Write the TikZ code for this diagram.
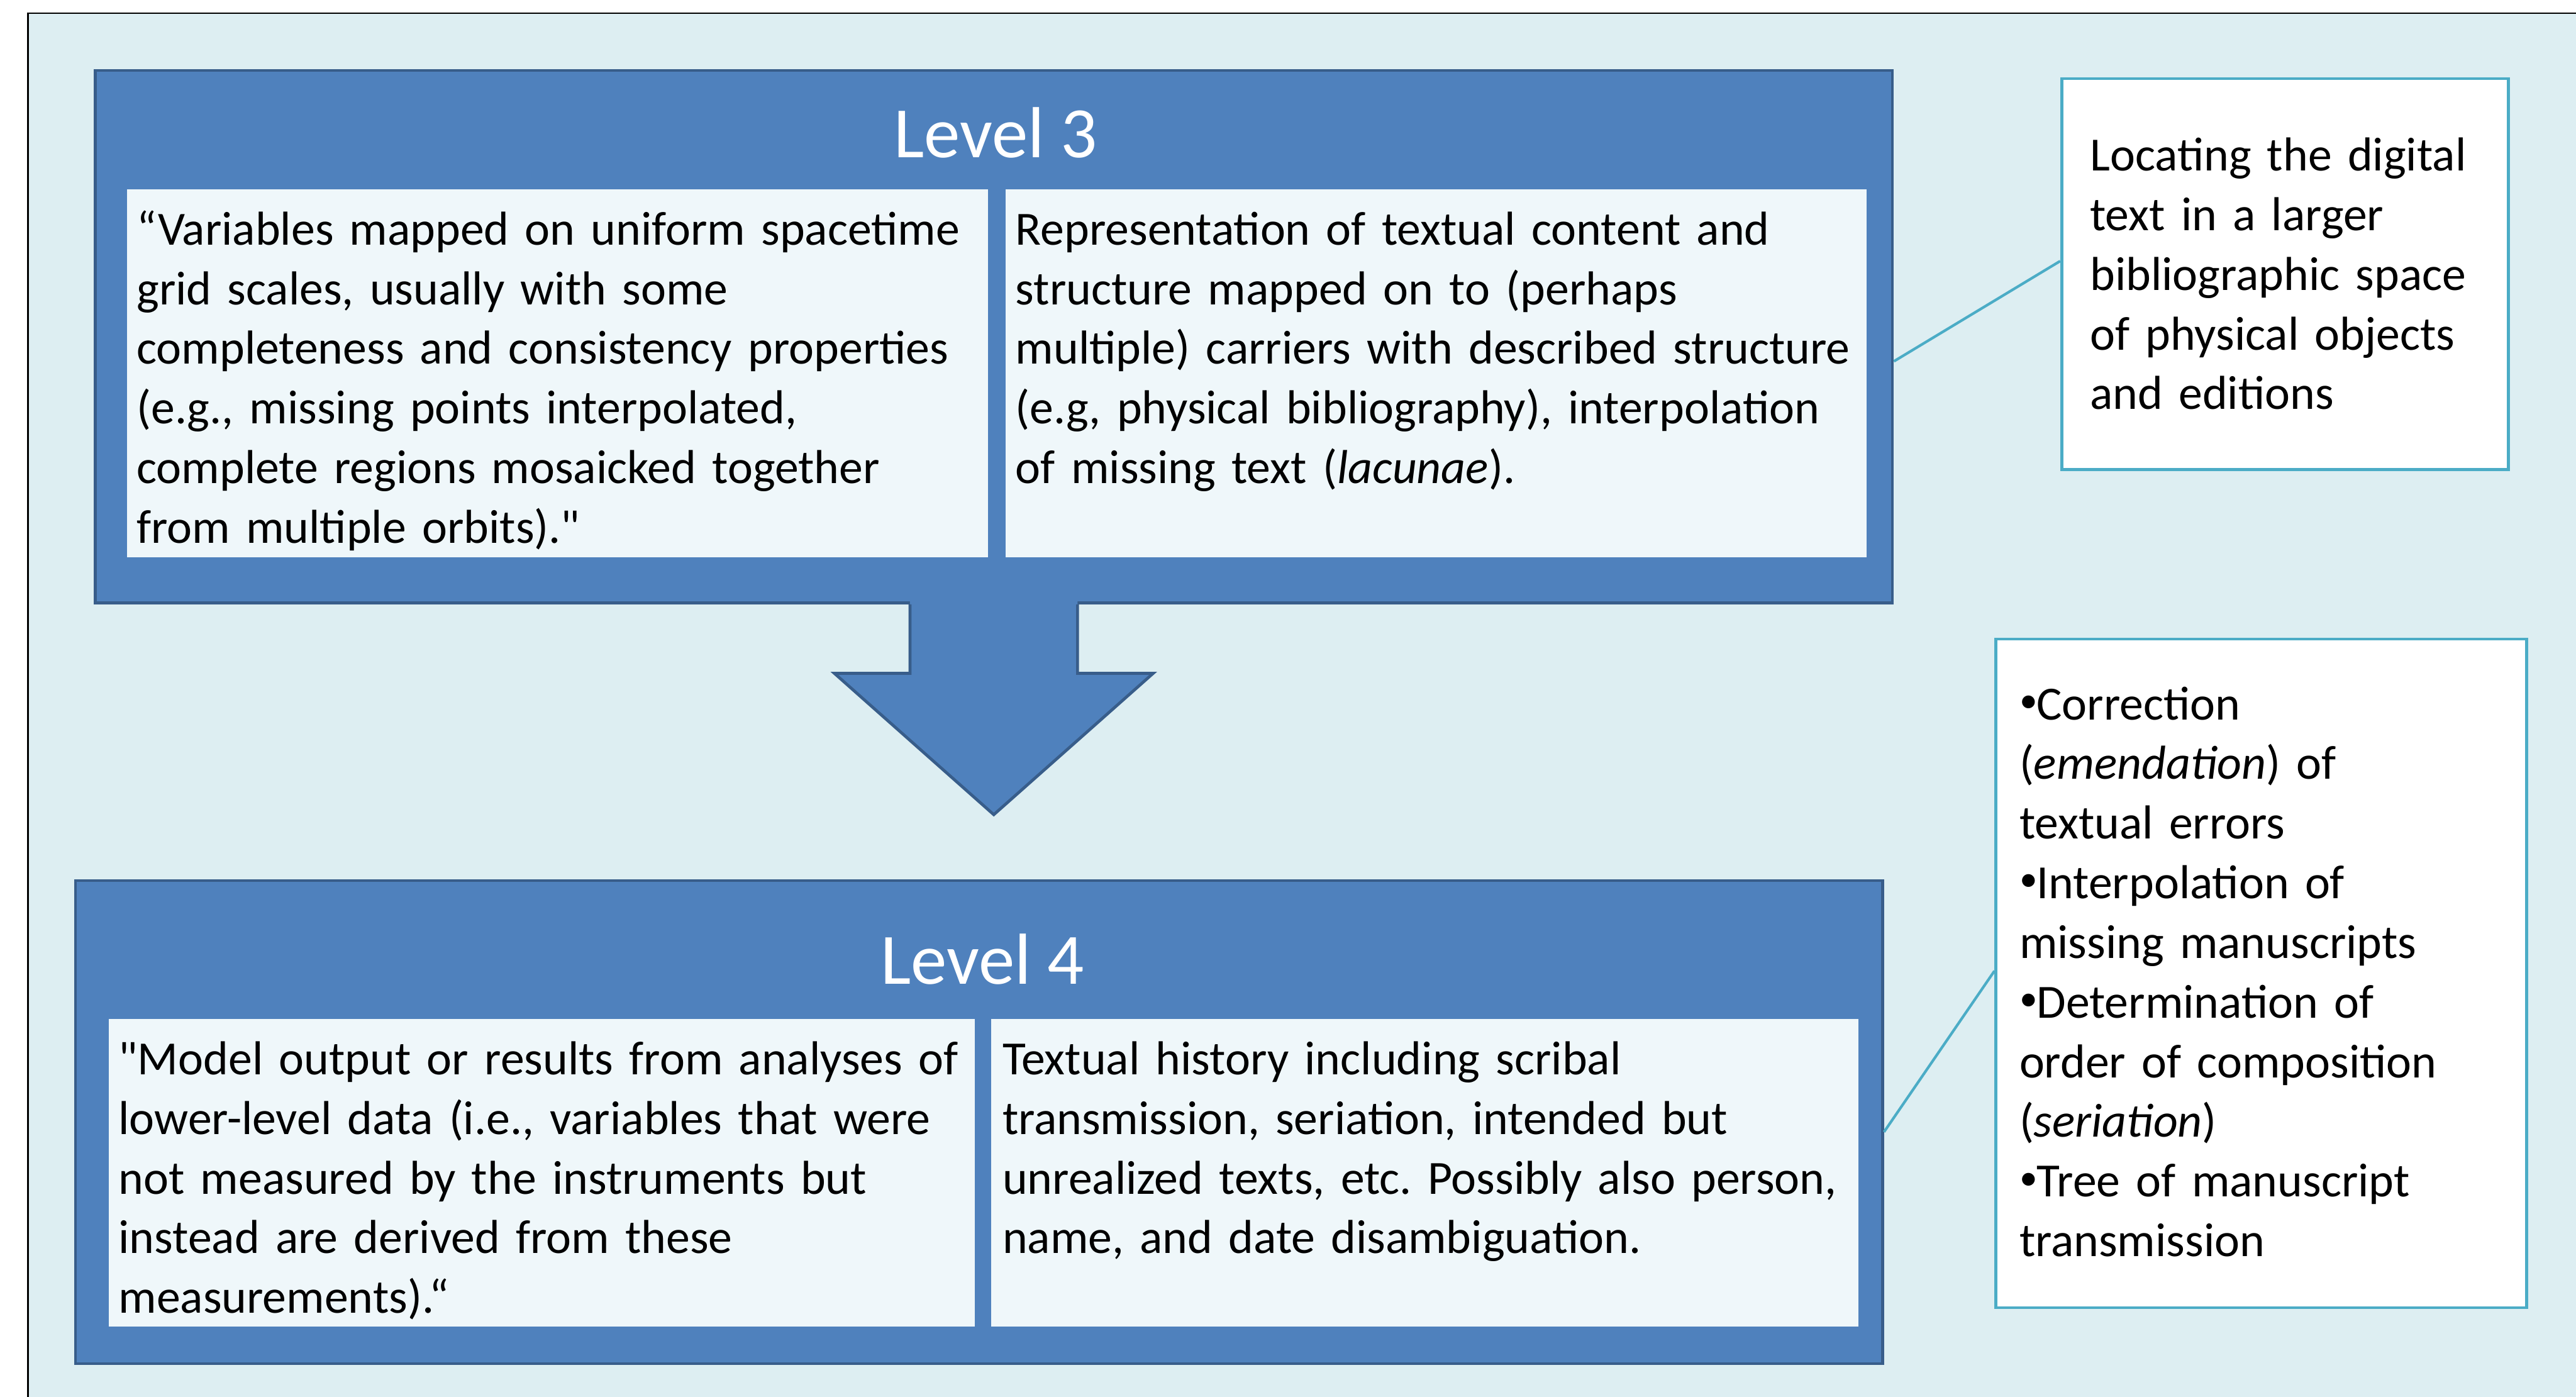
\documentclass[tikz,border=0pt]{standalone}
\usepackage{fontspec}
\setmainfont{Carlito}
\usetikzlibrary{calc}

\definecolor{bgpanel}{HTML}{DDEEF2}
\definecolor{levelfill}{HTML}{4F81BD}
\definecolor{levelline}{HTML}{385D8A}
\definecolor{innerfill}{HTML}{EFF7FA}
\definecolor{accent}{HTML}{4BACC6}

% small raised list bullet
\newcommand{\itembullet}{\makebox[10.5pt][l]{\hspace{0.3pt}\raisebox{4.5pt}{\fontsize{22pt}{0pt}\selectfont •}}}

\begin{document}
\frenchspacing
\begin{tikzpicture}[x=1pt,y=-1pt,
  levelbox/.style={draw=levelline, line width=1.8pt, fill=levelfill,
    anchor=north west, inner sep=0pt},
  innerbox/.style={fill=innerfill, anchor=north west, inner sep=0pt},
  notebox/.style={draw=accent, line width=1.8pt, fill=white,
    anchor=north west, inner sep=0pt},
  leveltitle/.style={anchor=base, text=white, inner sep=0pt,
    font=\fontsize{44pt}{53pt}\selectfont},
  bodytext/.style={anchor=base west, inner sep=0pt, align=left,
    text width=800pt, font=\fontsize{29pt}{36.3pt}\selectfont\frenchspacing},
  link/.style={draw=accent, line width=1.6pt}
]
\useasboundingbox (0,0) rectangle (1568,850);
\clip (0,0) rectangle (1568,850);

% panel
\fill[white] (0,0) rectangle (1568,850);
\draw[fill=bgpanel, line width=1pt] (17,8) rectangle (1600,900);

% Level 3
\node[levelbox, minimum width=1094pt, minimum height=324pt] (l3) at (57,42) {};
\node[leveltitle] (l3t) at (606,96) {Level 3};
\node[innerbox, minimum width=524pt, minimum height=224pt] (l3a) at (77,115) {};
\node[innerbox, minimum width=524pt, minimum height=224pt] (l3b) at (612,115) {};
\node[bodytext] (l3at) at (83,149) {“Variables mapped on uniform spacetime\\
grid scales, usually with some\\
completeness and consistency properties\\
(e.g., missing points interpolated,\\
complete regions mosaicked together\\
from multiple orbits).\textquotedbl};
\node[bodytext] (l3bt) at (618,149) {Representation of textual content and\\
structure mapped on to (perhaps\\
multiple) carriers with described structure\\
(e.g, physical bibliography), interpolation\\
of missing text (\textit{lacunae}).};

% arrow from level 3 to level 4
\fill[levelfill] ($(l3.south)+(-51,-2)$) -- ++(0,44) -- ++(-46,0) -- ($(l3.south)+(0,128)$)
  -- ($(l3.south)+(97,42)$) -- ++(-46,0) -- ++(0,-44) -- cycle;
\draw[levelline, line width=1.8pt, line join=miter]
  ($(l3.south)+(-51,0)$) -- ++(0,42) -- ++(-46,0) -- ($(l3.south)+(0,128)$)
  -- ($(l3.south)+(97,42)$) -- ++(-46,0) -- ++(0,-42);

% Level 4
\node[levelbox, minimum width=1100pt, minimum height=294pt] (l4) at (45,535) {};
\node[leveltitle] (l4t) at (598,599) {Level 4};
\node[innerbox, minimum width=527pt, minimum height=187pt] (l4a) at (66,620) {};
\node[innerbox, minimum width=528pt, minimum height=187pt] (l4b) at (603,620) {};
\node[bodytext] (l4at) at (72,654) {\textquotedbl Model output or results from analyses of\\
lower-level data (i.e., variables that were\\
not measured by the instruments but\\
instead are derived from these\\
measurements).“};
\node[bodytext] (l4bt) at (610,654) {Textual history including scribal\\
transmission, seriation, intended but\\
unrealized texts, etc. Possibly also person,\\
name, and date disambiguation.};

% side notes
\node[notebox, minimum width=272pt, minimum height=238pt] (n1) at (1254,47) {};
\node[bodytext] (n1t) at (1272,104) {Locating the digital\\
text in a larger\\
bibliographic space\\
of physical objects\\
and editions};

\node[notebox, minimum width=323pt, minimum height=407pt] (n2) at (1214,388) {};
\node[bodytext] (n2t) at (1229,438) {\itembullet Correction\\
(\textit{emendation}) of\\
textual errors\\
\itembullet Interpolation of\\
missing manuscripts\\
\itembullet Determination of\\
order of composition\\
(\textit{seriation})\\
\itembullet Tree of manuscript\\
transmission};

% callout lines
\draw[link] ([yshift=-15pt]l3.east) -- ([yshift=8pt]n1.west);
\draw[link] ([yshift=-6pt]l4.east) -- ([yshift=1.5pt]n2.west);
\end{tikzpicture}
\end{document}
